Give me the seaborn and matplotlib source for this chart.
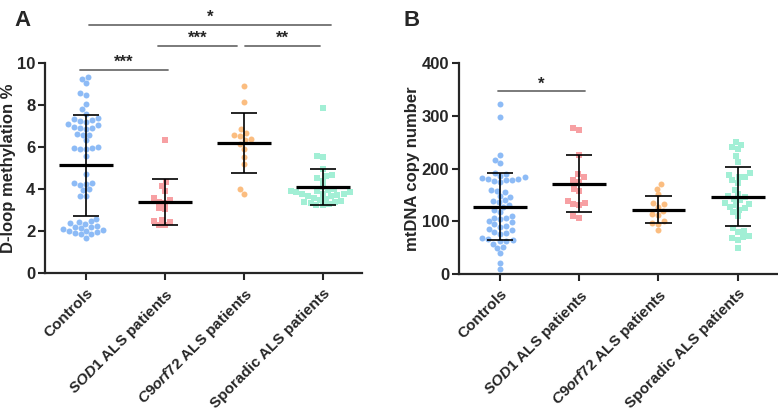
import pandas as pd
import matplotlib
matplotlib.use('Agg')
import matplotlib.pyplot as plt
import matplotlib.transforms as mtransforms
import seaborn as sns

groups = ['Controls', 'SOD1 ALS patients', 'C9orf72 ALS patients', 'Sporadic ALS patients']
tick_labels = ['Controls', r'$\mathit{SOD1}$ ALS patients',
               r'$\mathit{C9orf72}$ ALS patients', 'Sporadic ALS patients']
colors = ['#8dbbf6', '#f7a0a3', '#fbbd80', '#a2efd5']
markers = ['o', 's', 'o', 's']

# Panel A - D-loop methylation %
meth_controls = [9.35, 9.25, 9.05, 8.6, 8.5, 8.05, 7.8, 7.6, 7.4, 7.35, 7.3, 7.25,
                 7.2, 7.1, 7.05, 6.95, 6.9, 6.9, 6.85, 6.65, 6.6, 6.6, 6.35, 6.0,
                 5.95, 5.95, 5.9, 5.9, 5.6, 4.75, 4.3, 4.28, 4.25, 4.2, 4.0, 3.95,
                 3.7, 3.7, 2.6, 2.5, 2.45, 2.4, 2.35, 2.25, 2.2, 2.2, 2.15, 2.1,
                 2.05, 2.0, 2.0, 1.95, 1.9, 1.85, 1.85, 1.7]
meth_sod1 = [6.35, 4.35, 4.15, 3.9, 3.6, 3.5, 3.4, 3.35, 3.1, 3.05, 2.55, 2.5,
             2.45, 2.3, 2.3]
meth_c9 = [8.92, 8.17, 6.87, 6.67, 6.59, 6.54, 6.38, 6.35, 6.16, 5.93, 5.55,
           5.19, 4.01, 3.78]
meth_sporadic = [7.85, 5.6, 5.55, 4.95, 4.7, 4.65, 4.55, 4.4, 4.1, 4.0, 3.95,
                 3.9, 3.9, 3.85, 3.85, 3.8, 3.8, 3.8, 3.75, 3.7, 3.7, 3.6, 3.55,
                 3.5, 3.45, 3.4, 3.4, 3.35, 3.3, 3.25, 3.25]
meth_mean = [5.15, 3.38, 6.2, 4.1]
meth_sd = [2.4, 1.1, 1.42, 0.85]

# Panel B - mtDNA copy number
copy_controls = [322, 297, 225, 217, 211, 192, 190, 186, 184, 182, 181, 180, 179,
                 178, 176, 174, 160, 158, 156, 148, 146, 140, 138, 136, 130, 128,
                 122, 118, 110, 107, 106, 104, 100, 98, 94, 92, 90, 86, 84, 80, 78,
                 76, 68, 66, 64, 63, 62, 58, 52, 50, 40, 22, 9]
copy_sod1 = [277, 273, 225, 189, 183, 178, 175, 162, 157, 139, 135, 132, 131, 110, 107]
copy_c9 = [170, 162, 151, 134, 132, 127, 120, 114, 112, 101, 97, 95, 83]
copy_sporadic = [250, 245, 241, 236, 223, 212, 191, 188, 183, 183, 178, 172, 160,
                 151, 148, 146, 143, 140, 134, 133, 131, 128, 125, 121, 118, 110,
                 88, 82, 80, 72, 70, 68, 64, 50]
copy_mean = [128, 171, 122, 147]
copy_sd = [64, 54, 26, 55]

sns.set_style('ticks')
plt.rcParams['font.family'] = ['Liberation Sans', 'DejaVu Sans']
plt.rcParams['font.weight'] = 'bold'
plt.rcParams['mathtext.fontset'] = 'custom'
plt.rcParams['mathtext.it'] = 'Liberation Sans:italic:bold'
plt.rcParams['mathtext.rm'] = 'Liberation Sans:bold'


def long_df(series):
    rows = []
    for g, vals in zip(groups, series):
        for v in vals:
            rows.append((g, v))
    return pd.DataFrame(rows, columns=['group', 'value'])


def draw_panel(fig, ax, series, means, sds, ylim, yticks, ylabel):
    df = long_df(series)
    for i, g in enumerate(groups):
        sub = df[df['group'] == g]
        sns.swarmplot(data=sub, x='group', y='value', order=groups,
                      color=colors[i], marker=markers[i], size=4.3,
                      linewidth=0, ax=ax, zorder=2, clip_on=False)
    for i, (m, s) in enumerate(zip(means, sds)):
        ax.hlines(m, i - 0.34, i + 0.34, color='black', lw=2.3, zorder=4)
        ax.vlines(i, m - s, m + s, color='black', lw=1.2, zorder=4)
        ax.hlines([m - s, m + s], i - 0.165, i + 0.165, color='black', lw=1.2, zorder=4)
    ax.set_ylim(*ylim)
    ax.set_yticks(yticks)
    ax.set_xlim(-0.52, 3.5)
    ax.set_xticks(range(4))
    ax.set_xticklabels(tick_labels, rotation=45, ha='right', rotation_mode='anchor',
                       fontsize=11, fontweight='bold')
    shift = mtransforms.ScaledTranslation(-10 / 100, 0, fig.dpi_scale_trans)
    for lab in ax.get_xticklabels():
        lab.set_transform(lab.get_transform() + shift)
    ax.tick_params(axis='y', labelsize=12, width=1.5, length=5, pad=2)
    ax.tick_params(axis='x', width=1.5, length=5, pad=4)
    for lab in ax.get_yticklabels():
        lab.set_fontweight('bold')
    ax.set_ylabel(ylabel, fontsize=12, fontweight='bold', labelpad=1)
    ax.set_xlabel('')
    sns.despine(ax=ax)
    for sp in ['left', 'bottom']:
        ax.spines[sp].set_linewidth(1.6)


def sig_bar(ax, x0, x1, y, text):
    ax.plot([x0, x1], [y, y], color='#707070', lw=1.3, clip_on=False)
    ax.text((x0 + x1) / 2, y, text, ha='center', va='bottom', fontsize=12,
            fontweight='bold')


fig = plt.figure(figsize=(7.78, 4.11), dpi=100)
ax_a = fig.add_axes([0.058, 0.335, 0.4075, 0.511])
ax_b = fig.add_axes([0.59, 0.333, 0.409, 0.514])

draw_panel(fig, ax_a, [meth_controls, meth_sod1, meth_c9, meth_sporadic],
           meth_mean, meth_sd, (0, 10), range(0, 11, 2), 'D-loop methylation %')
draw_panel(fig, ax_b, [copy_controls, copy_sod1, copy_c9, copy_sporadic],
           copy_mean, copy_sd, (0, 400), range(0, 401, 100), 'mtDNA copy number')

sig_bar(ax_a, -0.08, 1.04, 9.7, '***')
sig_bar(ax_a, 0.91, 1.91, 10.84, '***')
sig_bar(ax_a, 2.01, 2.97, 10.84, '**')
sig_bar(ax_a, 0.04, 3.11, 11.84, '*')
sig_bar(ax_b, -0.03, 1.07, 346, '*')

fig.text(0.019, 0.975, 'A', fontsize=16, fontweight='bold', va='top')
fig.text(0.518, 0.975, 'B', fontsize=16, fontweight='bold', va='top')

fig.savefig('out.png', dpi=100)
